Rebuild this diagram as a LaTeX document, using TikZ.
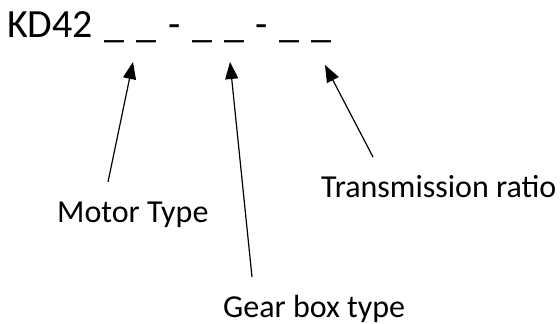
\documentclass[tikz,border=0pt]{standalone}
\usepackage{fontspec}
\setmainfont{Carlito}
\usetikzlibrary{arrows.meta}

\begin{document}
\begin{tikzpicture}[x=1pt,y=-1pt]
    \useasboundingbox (0,0) rectangle (560,324);
    % code string
    \node[anchor=base west,inner sep=0pt,font=\fontsize{40}{48}\selectfont] (code)
        at (7,37) {\spaceskip=11.8pt KD42 \_ \_ - \_ \_ - \_ \_};
    % labels
    \node[anchor=base west,inner sep=0pt,font=\fontsize{32}{38}\selectfont] (motor)
        at (57,222) {Motor Type};
    \node[anchor=base west,inner sep=0pt,font=\fontsize{32}{38}\selectfont] (ratio)
        at (321,197) {Transmission ratio};
    \node[anchor=base west,inner sep=0pt,font=\fontsize{32}{38}\selectfont] (gear)
        at (223,317) {Gear box type};
    % arrow ends
    \coordinate (motortip) at (133,62);
    \coordinate (motorend) at (108,182);
    \coordinate (geartip) at (230,62);
    \coordinate (gearend) at (252,277);
    \coordinate (ratiotip) at (325,65);
    \coordinate (ratioend) at (373,157);
    \draw[line width=1.2pt,-{Triangle[length=17pt,width=13pt]}] (motorend) -- (motortip);
    \draw[line width=1.2pt,-{Triangle[length=17pt,width=13pt]}] (gearend) -- (geartip);
    \draw[line width=1.2pt,-{Triangle[length=17pt,width=13pt]}] (ratioend) -- (ratiotip);
\end{tikzpicture}
\end{document}
